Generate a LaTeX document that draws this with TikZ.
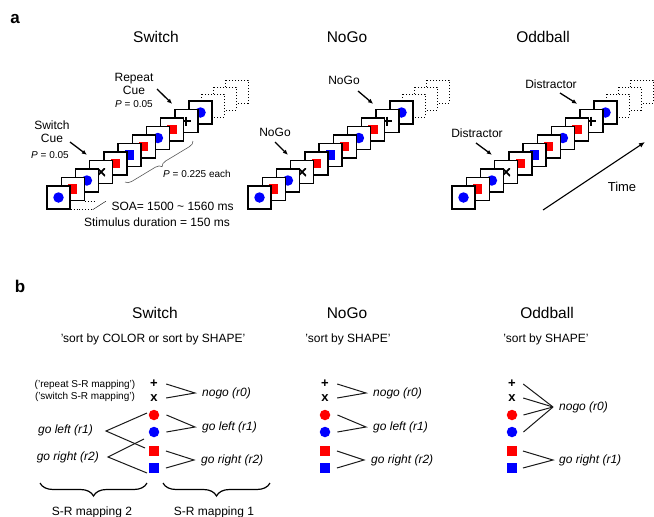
\documentclass[tikz,border=0pt]{standalone}
\usepackage{fontspec}
\setmainfont{Liberation Sans}
\usetikzlibrary{arrows.meta,decorations.pathreplacing}

\newcommand\trialstack[3]{%
  \foreach \j in {3,2,1}
    \draw[dotfrm] ({#1+142+12*\j},{#2-85-7*\j}) rectangle ++(23,23);
  \foreach \k/\s in {10/bcirc,9/plus,8/rsq,7/bcirc,6/rsq,5/bsq,4/rsq,3/cross,2/bcirc,1/rsq,0/bcirc}{
    \node[frm] (#3\k) at ({#1+14.2*\k+11.5},{#2-8.5*\k+11.5}) {};
    \node[\s] at (#3\k) {};
  }%
}

\begin{document}
\begin{tikzpicture}[x=1pt,y=-1pt,
  title/.style={font=\fontsize{15.5}{18}\selectfont},
  panel/.style={font=\bfseries\fontsize{17}{20}\selectfont},
  lbl/.style={font=\fontsize{12}{13}\selectfont},
  prob/.style={font=\fontsize{10}{12}\selectfont},
  resp/.style={font=\itshape\fontsize{12}{14}\selectfont,anchor=west,inner sep=0pt},
  frm/.style={draw,fill=white,line width=1.4pt,minimum size=23pt,inner sep=0pt},
  dotfrm/.style={draw,fill=white,dotted,line width=1pt},
  bcirc/.style={circle,fill=blue,minimum size=10.5pt,inner sep=0pt},
  rcirc/.style={circle,fill=red,minimum size=10.5pt,inner sep=0pt},
  bsq/.style={rectangle,fill=blue,minimum size=9.5pt,inner sep=0pt},
  rsq/.style={rectangle,fill=red,minimum size=9.5pt,inner sep=0pt},
  plus/.style={minimum size=9pt,inner sep=0pt,path picture={\draw[line width=1.9pt] (path picture bounding box.north) -- (path picture bounding box.south) (path picture bounding box.west) -- (path picture bounding box.east);}},
  cross/.style={minimum size=8pt,inner sep=0pt,path picture={\draw[line width=1.9pt] (path picture bounding box.north west) -- (path picture bounding box.south east) (path picture bounding box.north east) -- (path picture bounding box.south west);}},
  bsym/.style={minimum size=10pt,inner sep=0pt,font=\bfseries\fontsize{13}{13}\selectfont},
  cue/.style={line width=1.3pt,-{Latex[length=5pt,width=4.5pt]}},
  timearr/.style={line width=1.1pt,-{Latex[length=6pt,width=5pt]}},
  soa/.style={dotted,line width=0.9pt},
  fan/.style={line width=1pt,gray!20!black},
  abrace/.style={decorate,decoration={brace,mirror,amplitude=6pt},line width=0.6pt,gray!70!black},
  bbrace/.style={decorate,decoration={brace,mirror,amplitude=13pt},line width=1.2pt}]
\useasboundingbox (0,0) rectangle (654,517);

\draw(15,19) node[panel] (pa) {a};
\draw(156,37) node[title] (swT) {Switch};
\draw(347,37) node[title] (ngT) {NoGo};
\draw(543,37) node[title] (obT) {Oddball};

\trialstack{47}{186}{sw}
\trialstack{248}{186}{ng}
\trialstack{452}{186}{ob}

\draw(134,83.5) node[lbl,align=center] (swRep) {Repeat\\Cue};
\draw(134,104) node[prob] (swRepP) {\textit{P} = 0.05};
\draw(52,131.5) node[lbl,align=center] (swSw) {Switch\\Cue};
\draw(50,155) node[prob] (swSwP) {\textit{P} = 0.05};
\coordinate (swRa) at (157,89);
\coordinate (swSa) at (70,142);
\draw[cue] (swRa) -- ([shift={(-2,-5)}]sw9.north west);
\draw[cue] (swSa) -- ([shift={(-2,-5)}]sw3.north west);
\draw[abrace] (125,182) -- (193,141);
\draw(197,174) node[prob] (swEach) {\textit{P} = 0.225 each};
\draw[soa] (sw1.south east) -- ++(11,0);
\draw[soa] (sw0.south east) -- ++(22,0);
\draw[thin] ([xshift=22pt]sw0.south east) -- ([xshift=21pt]sw1.south east);
\draw(108,206.5) node[lbl,anchor=west] (soa) {SOA= 1500 \textasciitilde{} 1560 ms};
\draw(157,222.5) node[lbl] (dur) {Stimulus duration = 150 ms};

\draw(344,80) node[lbl] (ngUp) {NoGo};
\draw(275,132) node[lbl] (ngLo) {NoGo};
\coordinate (ngUa) at (358,91);
\coordinate (ngLa) at (275,142);
\draw[cue] (ngUa) -- ([shift={(-2,-5)}]ng9.north west);
\draw[cue] (ngLa) -- ([shift={(-2,-5)}]ng3.north west);

\draw(551,84) node[lbl] (obUp) {Distractor};
\draw(477,133) node[lbl] (obLo) {Distractor};
\coordinate (obUa) at (560,93);
\coordinate (obLa) at (476,143);
\draw[cue] (obUa) -- ([shift={(-2,-5)}]ob9.north west);
\draw[cue] (obLa) -- ([shift={(-2,-5)}]ob3.north west);
\coordinate (tS) at (543,210);
\coordinate (tE) at (645,142);
\draw[timearr] (tS) -- (tE);
\draw(622,187) node[font=\fontsize{13}{15}\selectfont] (time) {Time};

\draw(20,286) node[panel] (pb) {b};
\draw(155,313) node[title] (swBT) {Switch};
\draw(347,313) node[title] (ngBT) {NoGo};
\draw(547,313) node[title] (obBT) {Oddball};
\draw(153,339) node[lbl] (swSort) {'sort by COLOR or sort by SHAPE'};
\draw(348,339) node[lbl] (ngSort) {'sort by SHAPE'};
\draw(546,339) node[lbl] (obSort) {'sort by SHAPE'};

\foreach \c/\cx in {swB/154,ngB/325,obB/512}{
  \node[bsym] (\c-p) at (\cx,384) {+};
  \node[bsym] (\c-x) at (\cx,398) {x};
  \node[rcirc] (\c-rc) at (\cx,415) {};
  \node[bcirc] (\c-bc) at (\cx,432) {};
  \node[rsq] (\c-rs) at (\cx,451) {};
  \node[bsq] (\c-bs) at (\cx,468) {};
}

\draw(85,385) node[prob] (swRm) {('repeat S-R mapping')};
\draw(85,397) node[prob] (swSm) {('switch S-R mapping')};
\draw(202,393) node[resp] (swNo) {nogo (r0)};
\draw(202,427) node[resp] (swLe) {go left (r1)};
\draw(201,460) node[resp] (swRi) {go right (r2)};
\draw[fan] ([xshift=7pt]swB-p.east) -- ([xshift=-7pt]swNo.west) -- ([xshift=7pt]swB-x.east);
\draw[fan] ([xshift=7pt]swB-rc.east) -- ([xshift=-7pt]swLe.west) -- ([xshift=7pt]swB-bc.east);
\draw[fan] ([xshift=7pt]swB-rs.east) -- ([xshift=-7pt]swRi.west) -- ([xshift=7pt]swB-bs.east);
\draw(93,430) node[resp,anchor=east] (swLl) {go left (r1)};
\draw(99,457) node[resp,anchor=east] (swLr) {go right (r2)};
\draw[fan] ([shift={(-7,-2)}]swB-rc.center) -- ([shift={(13,1)}]swLl.east) -- ([shift={(-9,-3)}]swB-rs.center);
\draw[fan] ([shift={(-10,7)}]swB-bc.center) -- ([shift={(9,0)}]swLr.east) -- ([shift={(-7,5)}]swB-bs.center);
\draw[bbrace] (40,483) -- (147,483);
\draw[bbrace] (163,483) -- (270,483);
\draw(92,515.5) node[lbl,anchor=base] (map2) {S-R mapping 2};
\draw(214,515.5) node[lbl,anchor=base] (map1) {S-R mapping 1};

\draw(373,393) node[resp] (ngNo) {nogo (r0)};
\draw(373,427) node[resp] (ngLe) {go left (r1)};
\draw(371,460) node[resp] (ngRi) {go right (r2)};
\draw[fan] ([xshift=7pt]ngB-p.east) -- ([xshift=-7pt]ngNo.west) -- ([xshift=7pt]ngB-x.east);
\draw[fan] ([xshift=7pt]ngB-rc.east) -- ([xshift=-7pt]ngLe.west) -- ([xshift=7pt]ngB-bc.east);
\draw[fan] ([xshift=7pt]ngB-rs.east) -- ([xshift=-7pt]ngRi.west) -- ([xshift=7pt]ngB-bs.east);

\draw(559,407) node[resp] (obNo) {nogo (r0)};
\draw(559,460) node[resp] (obRi) {go right (r1)};
\draw[fan] ([xshift=6pt]obB-p.east) -- ([xshift=-6pt]obNo.west);
\draw[fan] ([xshift=6pt]obB-x.east) -- ([xshift=-6pt]obNo.west);
\draw[fan] ([xshift=6pt]obB-rc.east) -- ([xshift=-6pt]obNo.west);
\draw[fan] ([xshift=6pt]obB-bc.east) -- ([xshift=-6pt]obNo.west);
\draw[fan] ([xshift=6pt]obB-rs.east) -- ([xshift=-6pt]obRi.west) -- ([xshift=6pt]obB-bs.east);
\end{tikzpicture}
\end{document}
